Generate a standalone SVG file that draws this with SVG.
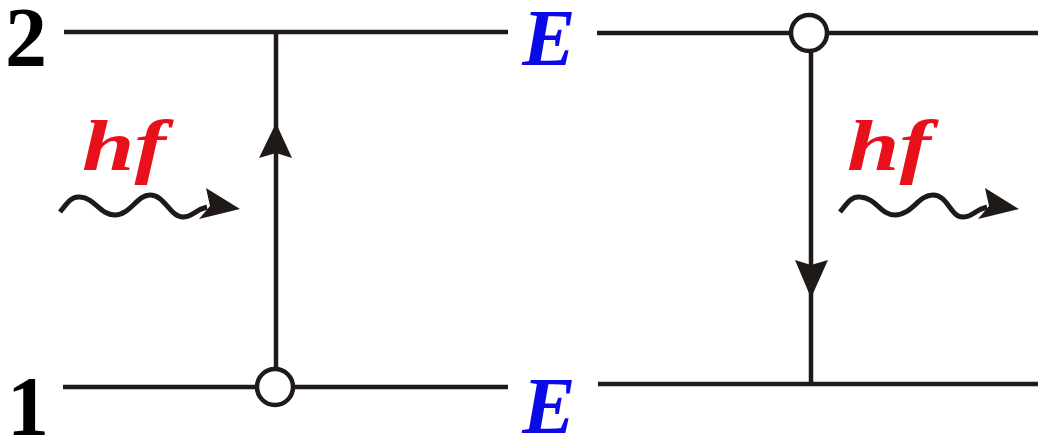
<svg xmlns="http://www.w3.org/2000/svg" width="1038" height="441" viewBox="0 0 1038 441">
<style>
.ln{stroke:#1f1a17;stroke-width:4.5;fill:none}
.wv{stroke:#1f1a17;stroke-width:5;fill:none;stroke-linecap:butt}
.ah{fill:#1f1a17;stroke:none}
.dot{fill:#fff;stroke:#1f1a17;stroke-width:4.5}
text{font-family:'Liberation Serif','Times New Roman',Tinos,'DejaVu Serif',serif;font-weight:bold}
.num{font-size:84px;fill:#000}
.en{font-style:italic;font-size:80px;fill:#0a0ae6}
.hf{font-style:italic;font-size:72px;fill:#e8111b}
</style>
<rect width="1038" height="441" fill="#fff"/>
<g id="levels">
<line class="ln" x1="64" y1="32" x2="508" y2="32"/>
<line class="ln" x1="597" y1="33" x2="1038" y2="33"/>
<line class="ln" x1="63" y1="387" x2="508" y2="387"/>
<line class="ln" x1="598" y1="384" x2="1038" y2="384"/>
</g>
<g id="connectors">
<line class="ln" x1="276" y1="32" x2="276" y2="370"/>
<polygon class="ah" points="276,123 292,158 276,153 259,158"/>
<line class="ln" x1="811" y1="50" x2="811" y2="384"/>
<polygon class="ah" points="811,298 795,260 811,265 828,260"/>
<path class="wv" d="M60,212 C68,202 72,196 80,197 C95,198 100,215 115,215 C130,215 137,195 150,195 C165,195 170,217 183,217 C192,217 195,210 207,207"/>
<polygon class="ah" points="240,209 206,188 210,206 199,219"/>
<path class="wv" d="M840,212 C848,202 852,196 860,197 C877,198 880,215 895,215 C912,215 918,195 933,195 C948,195 950,217 963,217 C972,217 975,210 987,207"/>
<polygon class="ah" points="1019,209 985,188 989,206 978,219"/>
</g>
<g id="node-1-low">
<circle class="dot" cx="275" cy="387" r="18"/>
</g>
<g id="node-2-up">
<circle class="dot" cx="809" cy="33" r="18"/>
</g>
<g id="labels">
<text class="num" x="26" y="66" text-anchor="middle">2</text>
<text class="num" x="28" y="435" text-anchor="middle">1</text>
<text class="en" x="549" y="65" text-anchor="middle">E</text>
<text class="en" x="549" y="433" text-anchor="middle">E</text>
<text class="hf" x="82" y="170" textLength="84" lengthAdjust="spacingAndGlyphs">hf</text>
<text class="hf" x="847" y="170" textLength="84" lengthAdjust="spacingAndGlyphs">hf</text>
</g>
</svg>
